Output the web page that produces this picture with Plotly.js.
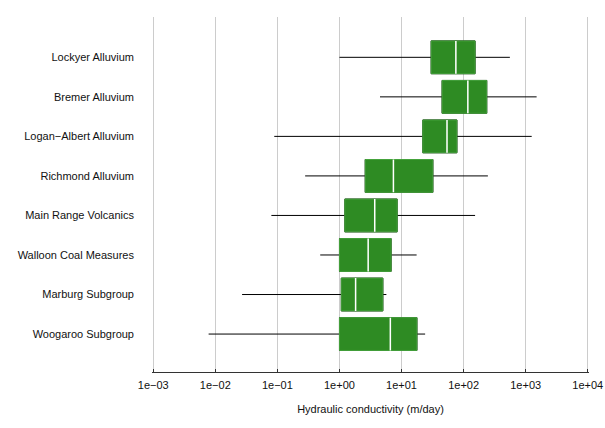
<!DOCTYPE html>
<html>
<head>
<meta charset="utf-8">
<script src="https://cdn.plot.ly/plotly-3.0.1.min.js"></script>
<style>html,body{margin:0;padding:0;background:#fff;}#chart{width:605px;height:428px;}</style>
</head>
<body>
<div id="chart"></div>
<script>
// Data
const categories = ["Lockyer Alluvium","Bremer Alluvium","Logan\u2212Albert Alluvium","Richmond Alluvium","Main Range Volcanics","Walloon Coal Measures","Marburg Subgroup","Woogaroo Subgroup"];
const lowerWhisker = [1.0, 4.5, 0.089, 0.28, 0.08, 0.49, 0.027, 0.0078];
const q1Values     = [30, 45, 22, 2.6, 1.22, 1.0, 1.07, 1.0];
const medianValues = [75, 117, 54, 7.4, 3.7, 2.9, 1.82, 6.6];
const q3Values     = [153, 236, 78, 32, 8.5, 6.8, 5.0, 17.7];
const upperWhisker = [556, 1500, 1250, 246, 153, 17.5, 5.7, 24];
const xTickValues = [1e-3, 1e-2, 1e-1, 1e0, 1e1, 1e2, 1e3, 1e4];
const xTickLabels = ["1e\u221203","1e\u221202","1e\u221201","1e+00","1e+01","1e+02","1e+03","1e+04"];

const positions = categories.map((c, i) => categories.length - i);
const boxW = 0.83;
const font = {family: "Liberation Sans, Arial, sans-serif", size: 11, color: "#111"};

const common = {type: "box", orientation: "h", y: positions, width: boxW, whiskerwidth: 0,
  boxpoints: false, hoverinfo: "skip", showlegend: false};

const whiskers = Object.assign({}, common, {
  q1: q1Values, median: medianValues, q3: q3Values,
  lowerfence: lowerWhisker, upperfence: upperWhisker,
  line: {color: "#000", width: 1}, fillcolor: "rgba(0,0,0,0)"
});
const boxes = Object.assign({}, common, {
  q1: q1Values, median: medianValues, q3: q3Values,
  lowerfence: q1Values, upperfence: q3Values,
  line: {color: "#45a33c", width: 1}, fillcolor: "#2e8b23"
});
const medians = Object.assign({}, common, {
  q1: medianValues, median: medianValues, q3: medianValues,
  lowerfence: medianValues, upperfence: medianValues,
  line: {color: "#ffffff", width: 1.5}, fillcolor: "rgba(0,0,0,0)"
});

const layout = {
  width: 605, height: 428,
  margin: {l: 152, r: 16, t: 17, b: 56},
  paper_bgcolor: "#fff", plot_bgcolor: "#fff",
  font: font,
  boxmode: "overlay",
  xaxis: {
    type: "log", range: [-3.02, 4.02],
    tickvals: xTickValues, ticktext: xTickLabels,
    showgrid: true, gridcolor: "#cccccc", gridwidth: 1,
    zeroline: false, showline: true, linecolor: "#333", linewidth: 1,
    ticks: "inside", ticklen: 3, tickcolor: "#333",
    ticklabelstandoff: 3,
    tickfont: font,
    title: {text: "Hydraulic conductivity (m/day)", font: font, standoff: 15},
    automargin: false
  },
  yaxis: {
    range: [0.04, 9.02],
    tickvals: positions, ticktext: categories,
    showgrid: false, zeroline: false, showline: false,
    ticks: "", ticklabelstandoff: 17,
    tickfont: font, automargin: false, fixedrange: true
  }
};

Plotly.newPlot("chart", [whiskers, boxes, medians], layout, {displayModeBar: false, staticPlot: true});
</script>
</body>
</html>
